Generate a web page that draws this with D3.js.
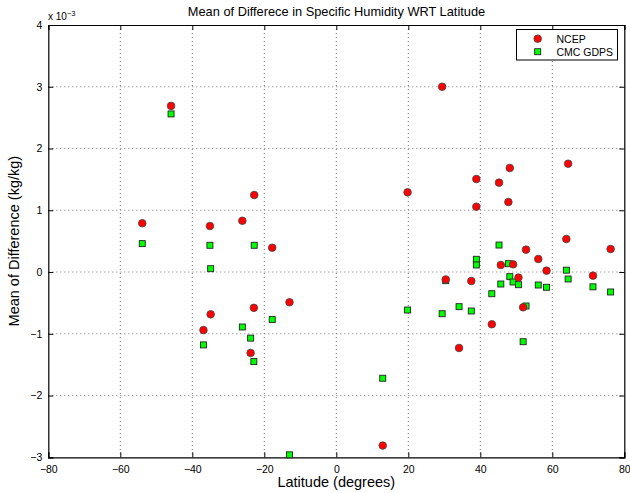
<!DOCTYPE html>
<html lang="en">
<head>
    <meta charset="UTF-8">
    <title>humidity</title>
    <script src="https://cdn.jsdelivr.net/npm/d3@7"></script>
    <style>
        body { margin: 0; background: #fff; font-family: 'Liberation Sans', Arial, Helvetica, sans-serif; }
        .grid line { stroke: #555; stroke-dasharray: 1,3; stroke-width: 0.8; }
        .axis text { font-size: 10.5px; fill: #000; }
    </style>
</head>
<body>
<div id="chart"></div>
<script type="text/javascript">
    // station latitudes (degrees) and mean differences (x 10^-3 kg/kg)
    var latitude = [-53.9, -45.9, -36.9, -35.1, -34.9, -26.1, -23.8, -22.9, -22.8, -17.8, -13.0,
                    12.9, 19.8, 29.4, 30.4, 34.1, 37.5, 38.9, 38.9, 43.2, 45.2, 45.7, 47.8, 48.2,
                    49.1, 50.6, 51.9, 52.7, 56.1, 58.4, 63.9, 64.4, 71.3, 76.2];
    var ncep = [0.79, 2.69, -0.94, 0.745, -0.685, 0.83, -1.31, -0.58, 1.247, 0.394, -0.49,
                -2.81, 1.29, 3.0, -0.12, -1.23, -0.145, 1.506, 1.058, -0.846, 1.447, 0.114, 1.134, 1.685,
                0.125, -0.09, -0.571, 0.362, 0.211, 0.022, 0.535, 1.754, -0.059, 0.373];
    var cmc = [0.46, 2.56, -1.18, 0.433, 0.054, -0.89, -1.07, -1.45, 0.433, -0.77, -2.96,
               -1.72, -0.615, -0.675, -0.14, -0.561, -0.631, 0.206, 0.114, -0.351, 0.437, -0.194, 0.135, -0.075,
               -0.161, -0.205, -1.128, -0.55, -0.21, -0.247, 0.03, -0.113, -0.24, -0.323];
    var xTicks = [-80, -60, -40, -20, 0, 20, 40, 60, 80];
    var yTicks = [-3, -2, -1, 0, 1, 2, 3, 4];
    var seriesNames = ["NCEP", "CMC GDPS"];

    var w = 630, h = 493;
    var mLeft = 48.3, mRight = 624.3, mTop = 25, mBottom = 457.3;

    var svg = d3.select("#chart").append("svg")
        .attr("width", w)
        .attr("height", h);

    var x = d3.scaleLinear().domain([-80, 80]).range([mLeft, mRight]);
    var y = d3.scaleLinear().domain([-3, 4]).range([mBottom, mTop]);

    // grid
    var grid = svg.append("g").attr("class", "grid");
    grid.selectAll(".vx").data(xTicks.slice(1, -1)).enter().append("line")
        .attr("x1", function(d) { return x(d); }).attr("x2", function(d) { return x(d); })
        .attr("y1", mTop).attr("y2", mBottom);
    grid.selectAll(".hy").data(yTicks.slice(1, -1)).enter().append("line")
        .attr("y1", function(d) { return y(d); }).attr("y2", function(d) { return y(d); })
        .attr("x1", mLeft).attr("x2", mRight);

    // axes, ticks pointing inwards like matlab
    var tl = 5;
    var minus = function(d) { return d < 0 ? "\u2212" + (-d) : d; };
    svg.append("g").attr("class", "axis")
        .attr("transform", "translate(0," + mBottom + ")")
        .call(d3.axisBottom(x).tickValues(xTicks).tickSize(-tl).tickPadding(8).tickFormat(minus));
    svg.append("g").attr("class", "axis")
        .attr("transform", "translate(0," + mTop + ")")
        .call(d3.axisTop(x).tickValues(xTicks).tickSize(-tl).tickFormat(""));
    svg.append("g").attr("class", "axis")
        .attr("transform", "translate(" + mLeft + ",0)")
        .call(d3.axisLeft(y).tickValues(yTicks).tickSize(-tl).tickPadding(6).tickFormat(minus));
    svg.append("g").attr("class", "axis")
        .attr("transform", "translate(" + mRight + ",0)")
        .call(d3.axisRight(y).tickValues(yTicks).tickSize(-tl).tickFormat(""));
    svg.selectAll(".axis path").attr("stroke", "#000").attr("stroke-width", 1.2);
    svg.selectAll(".axis line").attr("stroke", "#000");

    // points
    var pts = latitude.map(function(d, i) { return { lat: d, n: ncep[i], c: cmc[i] }; });
    svg.selectAll(".sq").data(pts).enter().append("rect")
        .attr("class", "sq")
        .attr("x", function(d) { return x(d.lat) - 3; })
        .attr("y", function(d) { return y(d.c) - 3; })
        .attr("width", 6).attr("height", 6)
        .attr("fill", "#00ff00").attr("stroke", "#222").attr("stroke-width", 0.9);
    svg.selectAll(".dot").data(pts).enter().append("circle")
        .attr("class", "dot")
        .attr("cx", function(d) { return x(d.lat); })
        .attr("cy", function(d) { return y(d.n); })
        .attr("r", 3.8)
        .attr("fill", "#ff0000").attr("stroke", "#444").attr("stroke-width", 0.8);

    // texts
    svg.append("text").attr("x", 336.5).attr("y", 16).attr("text-anchor", "middle")
        .style("font-size", "12.8px").text("Mean of Differece in Specific Humidity WRT Latitude");
    var ex = svg.append("text").attr("x", 48).attr("y", 20).style("font-size", "10px");
    ex.append("tspan").text("x 10");
    ex.append("tspan").attr("dy", -4).style("font-size", "7.5px").text("\u22123");
    svg.append("text").attr("x", (mLeft + mRight) / 2).attr("y", 487).attr("text-anchor", "middle")
        .style("font-size", "14.5px").text("Latitude (degrees)");
    svg.append("text").attr("transform", "translate(19," + ((mTop + mBottom) / 2) + ") rotate(-90)")
        .attr("text-anchor", "middle").style("font-size", "14.5px").text("Mean of Difference (kg/kg)");

    // legend
    var lg = svg.append("g");
    lg.append("rect").attr("x", 516.5).attr("y", 29.5).attr("width", 101).attr("height", 30.5)
        .attr("fill", "#fff").attr("stroke", "#000").attr("stroke-width", 1);
    lg.append("circle").attr("cx", 537.7).attr("cy", 38.7).attr("r", 3.8)
        .attr("fill", "#ff0000").attr("stroke", "#444").attr("stroke-width", 0.8);
    lg.append("rect").attr("x", 534.7).attr("y", 48.7).attr("width", 6).attr("height", 6)
        .attr("fill", "#00ff00").attr("stroke", "#222").attr("stroke-width", 0.9);
    lg.selectAll(".lt").data(seriesNames).enter().append("text")
        .attr("x", 556.5).attr("y", function(d, i) { return 42.5 + i * 13; })
        .style("font-size", "10.5px").text(function(d) { return d; });
</script>
</body>
</html>
